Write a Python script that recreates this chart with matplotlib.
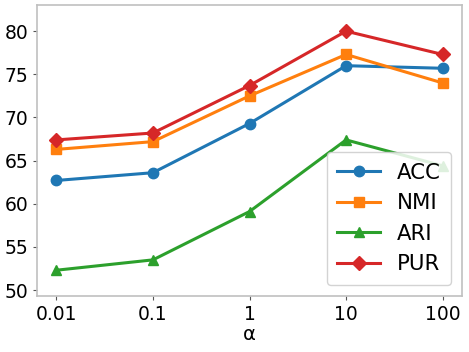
import matplotlib
matplotlib.use("Agg")
import matplotlib.pyplot as plt

alphas = ["0.01", "0.1", "1", "10", "100"]
acc = [62.7, 63.6, 69.3, 76.0, 75.7]
nmi = [66.3, 67.2, 72.5, 77.3, 74.0]
ari = [52.3, 53.5, 59.1, 67.4, 64.4]
pur = [67.4, 68.2, 73.7, 80.0, 77.3]
yticks = [50, 55, 60, 65, 70, 75, 80]

fig, ax = plt.subplots(figsize=(4.69, 3.52), dpi=100)
x = list(range(len(alphas)))
ms = 7.5
lw = 2.2
ax.plot(x, acc, marker="o", color="#1f77b4", lw=lw, ms=ms, label="ACC")
ax.plot(x, nmi, marker="s", color="#ff7f0e", lw=lw, ms=ms, label="NMI")
ax.plot(x, ari, marker="^", color="#2ca02c", lw=lw, ms=ms, label="ARI")
ax.plot(x, pur, marker="D", color="#d62728", lw=lw, ms=ms, label="PUR")

ax.set_xticks(x)
ax.set_xticklabels(alphas)
ax.set_yticks(yticks)
ax.set_ylim(49.35, 83.0)
ax.set_xlim(-0.2, 4.2)
ax.tick_params(labelsize=13.5, color="#555555", length=3, width=0.8)
ax.set_xlabel("α", fontsize=14, labelpad=1)
for s in ax.spines.values():
    s.set_color("#c0c0c0")
    s.set_linewidth(1.2)
ax.legend(loc="lower right", fontsize=15.3, handlelength=2.0, borderpad=0.5,
          labelspacing=0.5, handletextpad=0.8, framealpha=0.85)
fig.subplots_adjust(left=0.079, right=0.985, top=0.985, bottom=0.16)
fig.savefig("out.png", dpi=100)
